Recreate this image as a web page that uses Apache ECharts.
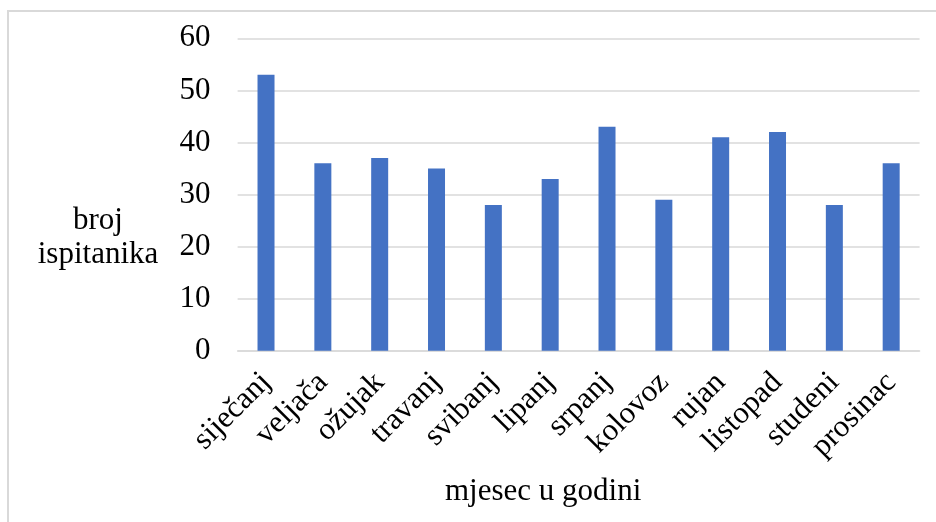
<!DOCTYPE html>
<html>
<head>
<meta charset="utf-8">
<script src="https://cdn.jsdelivr.net/npm/echarts@6/dist/echarts.min.js"></script>
<style>
html,body{margin:0;padding:0;background:#fff;}
#chart{width:936px;height:522px;}
</style>
</head>
<body>
<div id="chart"></div>
<script>
const categories = ['siječanj','veljača','ožujak','travanj','svibanj','lipanj','srpanj','kolovoz','rujan','listopad','studeni','prosinac'];
const values = [53, 36, 37, 35, 28, 33, 43, 29, 41, 42, 28, 36];
const yTicks = {min: 0, max: 60, interval: 10};
const xAxisTitle = 'mjesec u godini';
const yAxisTitle = 'broj\nispitanika';

const FONT = '"Liberation Serif", "Times New Roman", serif';
const FS = 31;
const chart = echarts.init(document.getElementById('chart'), null, {renderer: 'canvas'});
chart.setOption({
  backgroundColor: '#ffffff',
  animation: false,
  graphic: [{
    type: 'rect',
    shape: {x: 8, y: 11, width: 940, height: 520},
    style: {fill: 'none', stroke: '#d9d9d9', lineWidth: 2},
    silent: true
  }, {
    type: 'text',
    x: 98, y: 238,
    style: {
      text: yAxisTitle,
      font: FS + 'px ' + FONT,
      lineHeight: 34,
      fill: '#000',
      textAlign: 'center',
      textVerticalAlign: 'middle'
    },
    silent: true
  }],
  grid: {left: 237.6, right: 16.4, top: 38.3, bottom: 171.3, containLabel: false},
  xAxis: {
    type: 'category',
    data: categories,
    axisLine: {show: true, lineStyle: {color: '#d9d9d9', width: 1.5}},
    axisTick: {show: false},
    axisLabel: {
      interval: 0, rotate: 45, margin: 27,
      fontFamily: FONT, fontSize: FS, color: '#000'
    },
    name: xAxisTitle,
    nameLocation: 'middle',
    nameGap: 141,
    nameTextStyle: {fontFamily: FONT, fontSize: FS, color: '#000', align: 'center', verticalAlign: 'middle', padding: [0, 71, 0, 0]}
  },
  yAxis: {
    type: 'value',
    min: yTicks.min, max: yTicks.max, interval: yTicks.interval,
    axisLine: {show: false},
    axisTick: {show: false},
    splitLine: {lineStyle: {color: '#d9d9d9', width: 1.5}},
    axisLabel: {margin: 27, fontFamily: FONT, fontSize: FS, color: '#000'}
  },
  series: [{
    type: 'bar',
    data: values,
    barWidth: 17,
    itemStyle: {color: '#4472c4'}
  }]
});
</script>
</body>
</html>
